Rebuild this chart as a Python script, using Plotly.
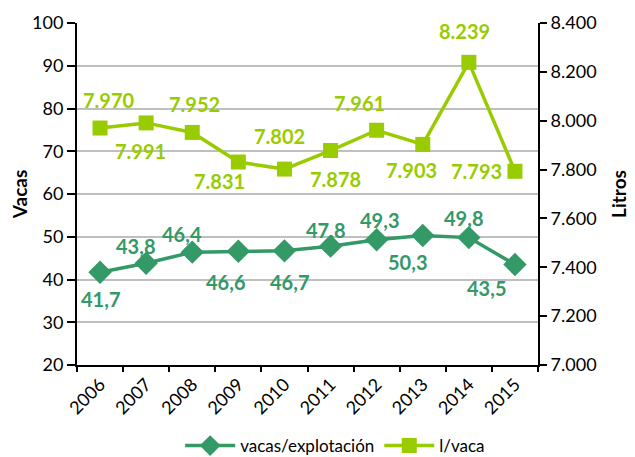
import plotly.graph_objects as go

years = ["2006", "2007", "2008", "2009", "2010", "2011", "2012", "2013", "2014", "2015"]
vacas_explotacion = [41.7, 43.8, 46.4, 46.6, 46.7, 47.8, 49.3, 50.3, 49.8, 43.5]
litros_vaca = [7970, 7991, 7952, 7831, 7802, 7878, 7961, 7903, 8239, 7793]

DARK = "#339966"
LIME = "#99CC00"
FONT = "Lato"

# label offsets (px) relative to markers
vac_off = [(0, -27), (-11, 17), (-10, 18), (-13, -31), (5, -31),
           (-5, 16), (3, 20), (-15, -27), (-5, 20), (-28, -23)]
lit_off = [(9, 28), (-6, -28), (2, 28), (-19, -19), (-5, 33),
           (5, -28), (-17, 27), (-11, -26), (-4, 31), (-38, 0)]

fig = go.Figure()
fig.add_trace(go.Scatter(
    x=years, y=vacas_explotacion, name="vacas/explotación",
    mode="lines+markers", line=dict(color=DARK, width=3.5),
    marker=dict(symbol="diamond", size=18, color=DARK), yaxis="y"))
fig.add_trace(go.Scatter(
    x=years, y=litros_vaca, name="l/vaca",
    mode="lines+markers", line=dict(color=LIME, width=3.5),
    marker=dict(symbol="square", size=15, color=LIME), yaxis="y2"))

ann = []
# category axes: annotation x uses the category serial number
for i, v in enumerate(vacas_explotacion):
    ann.append(dict(x=i, y=v, xref="x", yref="y", showarrow=False,
                    text=f"{v:.1f}".replace(".", ","),
                    xshift=vac_off[i][0], yshift=vac_off[i][1],
                    font=dict(family=FONT, size=20, color=DARK, weight="bold")))
for i, v in enumerate(litros_vaca):
    ann.append(dict(x=i, y=v, xref="x", yref="y2", showarrow=False,
                    text=f"{v:,.0f}".replace(",", "."),
                    xshift=lit_off[i][0], yshift=lit_off[i][1],
                    font=dict(family=FONT, size=20, color=LIME, weight="bold")))

fig.update_layout(
    width=627, height=449,
    margin=dict(l=69, r=97, t=15, b=92, autoexpand=False),
    paper_bgcolor="white", plot_bgcolor="white",
    separators=",.",
    font=dict(family=FONT, size=18, color="black"),
    showlegend=True,
    legend=dict(orientation="h", x=0.56, xanchor="center", y=-0.237, yanchor="middle",
                font=dict(size=17), itemwidth=50, tracegroupgap=0),
    annotations=ann,
    xaxis=dict(type="category", range=[-0.5, len(years) - 0.5], autorange=False,
               showline=True, linecolor="black", linewidth=2,
               ticks="outside", tickson="boundaries", ticklen=5, tickcolor="black",
               tickwidth=1.5, tickangle=-45, showgrid=False, zeroline=False,
               tickfont=dict(size=18)),
    yaxis=dict(range=[20, 100], dtick=10, showline=True, linecolor="black", linewidth=2,
               ticks="outside", ticklen=8, tickcolor="black", tickwidth=1.5,
               showgrid=True, gridcolor="#bfbfbf", gridwidth=1.5, zeroline=False,
               title=dict(text="<b>Vacas</b>", font=dict(size=19), standoff=6),
               tickfont=dict(size=18)),
    yaxis2=dict(range=[7000, 8400], dtick=200, overlaying="y", side="right", anchor="x",
                showline=True, linecolor="black", linewidth=2,
                ticks="outside", ticklen=7, tickcolor="black", tickwidth=1.5,
                showgrid=False, zeroline=False, tickformat=",.0f",
                title=dict(text="<b>Litros</b>", font=dict(size=19), standoff=17),
                tickfont=dict(size=18)),
)

fig.write_html("out.html")
